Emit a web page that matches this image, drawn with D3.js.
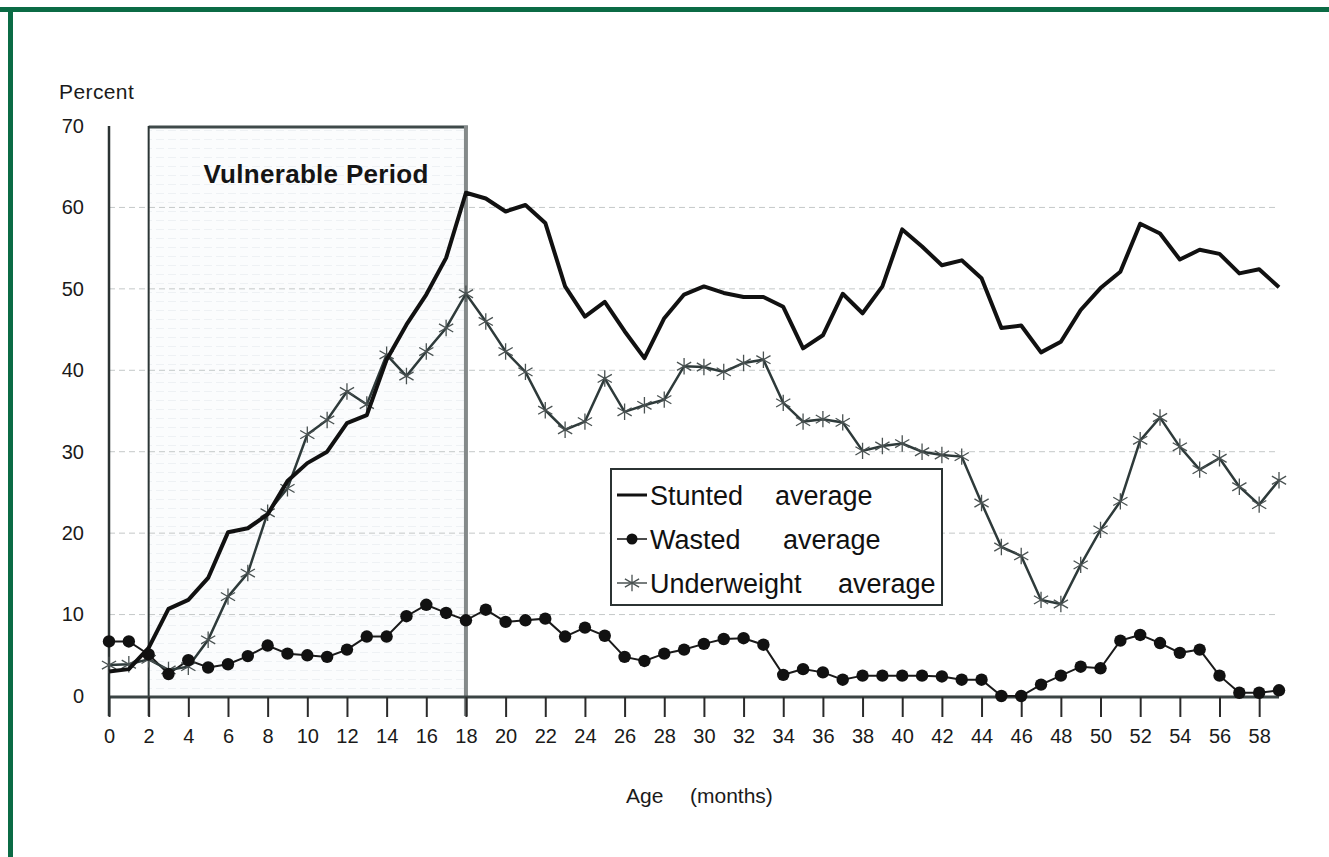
<!DOCTYPE html>
<html>
<head>
<meta charset="utf-8">
<script src="https://cdn.jsdelivr.net/npm/d3@7"></script>
<style>
  body { margin: 0; background: #fff; }
  svg { display: block; font-family: Arial, "Liberation Sans", sans-serif; }
</style>
</head>
<body>
<svg id="chart" width="1329" height="857"></svg>
<script>
// months 0..59
var months = d3.range(0, 60);

var stunted = [3.0, 3.3, 5.9, 10.7, 11.8, 14.5, 20.1, 20.6, 22.3, 26.4, 28.6, 30.0, 33.5, 34.5, 41.3, 45.6, 49.3, 53.8, 61.8,
  61.1, 59.5, 60.3, 58.1, 50.3, 46.6, 48.4, 44.8, 41.5, 46.4, 49.3, 50.3, 49.5, 49.0, 49.0, 47.8, 42.7, 44.3, 49.4, 47.0,
  50.3, 57.3, 55.2, 52.9, 53.5, 51.3, 45.2, 45.5, 42.2, 43.5, 47.4, 50.1, 52.1, 58.0, 56.8, 53.6, 54.8, 54.3, 51.9, 52.4, 50.2];

var wasted = [6.7, 6.7, 5.1, 2.7, 4.4, 3.5, 3.9, 4.9, 6.2, 5.2, 5.0, 4.8, 5.7, 7.3, 7.3, 9.8, 11.2, 10.2, 9.3,
  10.6, 9.1, 9.3, 9.5, 7.3, 8.4, 7.4, 4.8, 4.3, 5.2, 5.7, 6.4, 7.0, 7.1, 6.3, 2.6, 3.3, 2.9, 2.0, 2.5,
  2.5, 2.5, 2.5, 2.4, 2.0, 2.0, 0.0, 0.0, 1.4, 2.5, 3.6, 3.4, 6.8, 7.5, 6.5, 5.3, 5.7, 2.5, 0.4, 0.4, 0.7];

var underweight = [3.8, 3.9, 4.5, 3.2, 3.6, 6.9, 12.2, 15.1, 22.5, 25.5, 32.1, 33.9, 37.4, 35.8, 41.9, 39.3, 42.3, 45.2, 49.4,
  46.0, 42.3, 39.8, 35.1, 32.7, 33.7, 39.0, 34.9, 35.7, 36.4, 40.5, 40.4, 39.8, 40.9, 41.3, 36.0, 33.7, 34.0, 33.6, 30.1,
  30.7, 31.0, 30.0, 29.6, 29.4, 23.7, 18.3, 17.2, 11.8, 11.3, 16.1, 20.4, 23.9, 31.4, 34.2, 30.6, 27.8, 29.2, 25.7, 23.5, 26.5];

var yTicks = [0, 10, 20, 30, 40, 50, 60, 70];
var gridValues = [10, 20, 30, 40, 50, 60];
var xTicks = d3.range(0, 60, 2);
var vulnerable = [2, 18];

var svg = d3.select('#chart');

var x = d3.scaleLinear().domain([0, 59]).range([109, 1279]);
var y = d3.scaleLinear().domain([0, 70]).range([696, 126]);

// green frame (top and left edges only)
svg.append('rect').attr('x', 0).attr('y', 7).attr('width', 1329).attr('height', 5).attr('fill', '#0b6b45');
svg.append('rect').attr('x', 8).attr('y', 7).attr('width', 5).attr('height', 850).attr('fill', '#0b6b45');

// faint stripe pattern for the vulnerable period box
var defs = svg.append('defs');
var pat = defs.append('pattern')
    .attr('id', 'stripes')
    .attr('patternUnits', 'userSpaceOnUse')
    .attr('width', 12).attr('height', 9);
pat.append('rect').attr('width', 12).attr('height', 9).attr('fill', '#fbfcfd');
pat.append('line').attr('x1', 0).attr('x2', 12).attr('y1', 4.5).attr('y2', 4.5)
    .attr('stroke', '#eef1f4').attr('stroke-width', 1).attr('stroke-dasharray', '8,4');

svg.append('rect')
    .attr('x', x(vulnerable[0]))
    .attr('y', y(70))
    .attr('width', x(vulnerable[1]) - x(vulnerable[0]))
    .attr('height', y(0) - y(70))
    .attr('fill', 'url(#stripes)');

// gridlines
svg.append('g').selectAll('line')
    .data(gridValues)
    .enter().append('line')
    .attr('x1', x(0)).attr('x2', x(59) - 2)
    .attr('y1', function (d) { return y(d); })
    .attr('y2', function (d) { return y(d); })
    .attr('stroke', '#c4c8c8')
    .attr('stroke-width', 1)
    .attr('stroke-dasharray', '6,4');

// box borders
svg.append('line')
    .attr('x1', x(vulnerable[0])).attr('x2', x(vulnerable[1]) + 2)
    .attr('y1', y(70) + 1).attr('y2', y(70) + 1)
    .attr('stroke', '#3f4a4a').attr('stroke-width', 3);
svg.append('line')
    .attr('x1', x(vulnerable[0])).attr('x2', x(vulnerable[0]))
    .attr('y1', y(70)).attr('y2', y(0) + 20)
    .attr('stroke', '#2b3535').attr('stroke-width', 2);
svg.append('line')
    .attr('x1', x(vulnerable[1])).attr('x2', x(vulnerable[1]))
    .attr('y1', y(70)).attr('y2', y(0) + 20)
    .attr('stroke', '#858a8a').attr('stroke-width', 4);

svg.append('text')
    .attr('x', 316)
    .attr('y', 183)
    .attr('text-anchor', 'middle')
    .attr('font-size', 26)
    .attr('font-weight', 'bold')
    .attr('letter-spacing', 0.3)
    .attr('fill', '#151515')
    .text('Vulnerable Period');

// x axis
var xAxis = d3.axisBottom(x)
    .tickValues(xTicks)
    .tickSize(20)
    .tickPadding(12)
    .tickFormat(d3.format('d'));
var gx = svg.append('g')
    .attr('transform', 'translate(0,' + (y(0) + 1) + ')')
    .call(xAxis);
gx.select('.domain').attr('stroke', '#3b4444').attr('stroke-width', 3)
    .attr('d', 'M' + x(0) + ',0H' + x(59));
gx.selectAll('.tick line').attr('stroke', '#2a2a2a').attr('stroke-width', 2);
gx.selectAll('.tick text').attr('font-size', 20).attr('fill', '#1a1a1a')
    .attr('font-family', 'Arial, "Liberation Sans", sans-serif');

// y axis
var yAxis = d3.axisLeft(y)
    .tickValues(yTicks)
    .tickSize(0)
    .tickPadding(25);
var gy = svg.append('g')
    .attr('transform', 'translate(' + x(0) + ',0)')
    .call(yAxis);
gy.select('.domain').attr('stroke', '#2b3333').attr('stroke-width', 2.5)
    .attr('d', 'M0,' + y(70) + 'V' + (y(0) + 20));
gy.selectAll('.tick text').attr('font-size', 20).attr('fill', '#1a1a1a')
    .attr('font-family', 'Arial, "Liberation Sans", sans-serif');

svg.append('text')
    .attr('x', 59).attr('y', 99)
    .attr('font-size', 21)
    .attr('letter-spacing', 0.4)
    .attr('fill', '#1a1a1a')
    .text('Percent');

svg.append('text')
    .attr('x', 626).attr('y', 803)
    .attr('font-size', 21)
    .attr('fill', '#1a1a1a')
    .text('Age');
svg.append('text')
    .attr('x', 690).attr('y', 803)
    .attr('font-size', 21)
    .attr('fill', '#1a1a1a')
    .text('(months)');

// series
var line = function (vals) {
  return d3.line()
    .x(function (d, i) { return x(months[i]); })
    .y(function (d) { return y(d); })(vals);
};

svg.append('path')
    .attr('d', line(wasted))
    .attr('fill', 'none')
    .attr('stroke', '#1a1a1a')
    .attr('stroke-width', 2);

svg.append('path')
    .attr('d', line(underweight))
    .attr('fill', 'none')
    .attr('stroke', '#2e3a3a')
    .attr('stroke-width', 2.5);

var star = d3.symbol().type(d3.symbolAsterisk).size(190);

svg.append('g').selectAll('path')
    .data(underweight)
    .enter().append('path')
    .attr('d', star)
    .attr('transform', function (d, i) { return 'translate(' + x(months[i]) + ',' + y(d) + ')'; })
    .attr('fill', 'none')
    .attr('stroke', '#4a5252')
    .attr('stroke-width', 1.3);

svg.append('g').selectAll('circle')
    .data(wasted)
    .enter().append('circle')
    .attr('cx', function (d, i) { return x(months[i]); })
    .attr('cy', function (d) { return y(d); })
    .attr('r', 6.2)
    .attr('fill', '#111');

svg.append('path')
    .attr('d', line(stunted))
    .attr('fill', 'none')
    .attr('stroke', '#111')
    .attr('stroke-width', 4)
    .attr('stroke-linejoin', 'round');

// legend
var legendNames = ['Stunted', 'Wasted', 'Underweight'];
var legendAvgX = [775, 783, 838];
var legend = svg.append('g');
legend.append('rect')
    .attr('x', 611).attr('y', 469)
    .attr('width', 331).attr('height', 136)
    .attr('fill', '#fff')
    .attr('stroke', '#2b3333')
    .attr('stroke-width', 2);

var rows = legend.selectAll('g.row')
    .data(legendNames)
    .enter().append('g')
    .attr('class', 'row')
    .attr('transform', function (d, i) { return 'translate(0,' + (505 + i * 44) + ')'; });

rows.append('line')
    .attr('x1', 617).attr('x2', 647)
    .attr('y1', -10).attr('y2', -10)
    .attr('stroke', function (d, i) { return i === 2 ? '#4a5252' : '#111'; })
    .attr('stroke-width', function (d, i) { return i === 0 ? 3 : 1.5; });

rows.filter(function (d, i) { return i === 1; })
    .append('circle')
    .attr('cx', 632).attr('cy', -10).attr('r', 5.5).attr('fill', '#111');

rows.filter(function (d, i) { return i === 2; })
    .append('path')
    .attr('d', star)
    .attr('transform', 'translate(632,-10)')
    .attr('fill', 'none')
    .attr('stroke', '#4a5252')
    .attr('stroke-width', 1.3);

rows.append('text')
    .attr('x', 650).attr('y', 0)
    .attr('font-size', 27)
    .attr('fill', '#111')
    .text(function (d) { return d; });

rows.append('text')
    .attr('x', function (d, i) { return legendAvgX[i]; })
    .attr('y', 0)
    .attr('font-size', 27)
    .attr('fill', '#111')
    .text('average');
</script>
</body>
</html>
